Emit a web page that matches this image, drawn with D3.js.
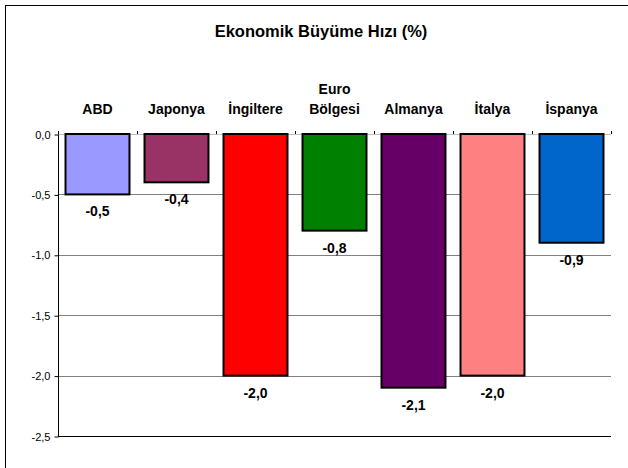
<!DOCTYPE html>
<html>
<head>
<meta charset="utf-8">
<script src="https://cdn.jsdelivr.net/npm/d3@7/dist/d3.min.js"></script>
<style>
  html, body { margin: 0; padding: 0; background: #fff; }
  svg { display: block; font-family: Arial, "Liberation Sans", sans-serif; }
</style>
</head>
<body>
<script>
/* ---------------------- Data ---------------------- */
var title = "Ekonomik Büyüme Hızı (%)";
var categories = ["ABD", "Japonya", "İngiltere", "Euro\nBölgesi", "Almanya", "İtalya", "İspanya"];
var values = [-0.5, -0.4, -2.0, -0.8, -2.1, -2.0, -0.9];
var barColors = ["#9999ff", "#993366", "#ff0000", "#008000", "#660066", "#ff8080", "#0066cc"];
var yTicks = [0, -0.5, -1.0, -1.5, -2.0, -2.5];

var W = 628, H = 468;
var plot = {left: 58, right: 611, top: 134, bottom: 436};

var fmt = function(v) { return d3.format(".1f")(v).replace("−", "-").replace(".", ","); };

/* ---------------------- Chart ---------------------- */
var svg = d3.select("body").append("svg")
    .attr("width", W)
    .attr("height", H);

// Chart area border (runs off the right and bottom edges)
svg.append("rect")
    .attr("x", 5.5).attr("y", 5.5)
    .attr("width", W + 10).attr("height", H + 10)
    .attr("fill", "#fff")
    .attr("stroke", "#000");

var xScale = d3.scaleBand()
    .domain(categories)
    .range([plot.left, plot.right])
    .paddingInner(0.165)
    .paddingOuter(0.0825);

var yScale = d3.scaleLinear()
    .domain([-2.5, 0])
    .range([plot.bottom, plot.top]);

// Gridlines
svg.append("g")
    .selectAll("line")
    .data(yTicks)
    .enter()
    .append("line")
    .attr("x1", plot.left).attr("x2", plot.right)
    .attr("y1", d => Math.round(yScale(d)) + 0.5)
    .attr("y2", d => Math.round(yScale(d)) + 0.5)
    .attr("stroke", d => d === -2.5 ? "#000" : (d === 0 ? "#c0c0c0" : "#808080"))
    .attr("stroke-width", 1);

// Value axis
var yAxis = d3.axisLeft(yScale)
    .tickValues(yTicks)
    .tickSize(4)
    .tickPadding(4)
    .tickFormat(fmt);

svg.append("g")
    .attr("transform", `translate(${plot.left + 0.5}, 0.5)`)
    .call(yAxis)
    .call(g => g.select(".domain").attr("stroke", "#000").attr("d", `M0,${yScale(0)}V${yScale(-2.5)}`))
    .call(g => g.selectAll(".tick text")
        .attr("font-size", 11)
        .attr("font-family", "Arial, 'Liberation Sans', sans-serif")
        .attr("fill", "#000"));

// Category tick marks on the zero line (between bars)
var step = xScale.step();
svg.append("g")
    .selectAll("line")
    .data(d3.range(categories.length + 1))
    .enter()
    .append("line")
    .attr("x1", i => Math.round(plot.left + i * step) + 0.5)
    .attr("x2", i => Math.round(plot.left + i * step) + 0.5)
    .attr("y1", yScale(0) - 3)
    .attr("y2", yScale(0))
    .attr("stroke", "#000");

// Bars
svg.append("g")
    .selectAll("rect")
    .data(values)
    .enter()
    .append("rect")
    .attr("x", (d, i) => xScale(categories[i]) + 1)
    .attr("y", yScale(0))
    .attr("width", xScale.bandwidth() - 2)
    .attr("height", d => yScale(d) - yScale(0))
    .attr("fill", (d, i) => barColors[i])
    .attr("stroke", "#000")
    .attr("stroke-width", 2);

// Value labels
svg.append("g")
    .selectAll("text")
    .data(values)
    .enter()
    .append("text")
    .attr("x", (d, i) => xScale(categories[i]) + xScale.bandwidth() / 2)
    .attr("y", d => yScale(d) + 22)
    .attr("text-anchor", "middle")
    .attr("font-size", 14)
    .attr("font-weight", "bold")
    .text(d => fmt(d));

// Category labels (above the plot)
var catLabels = svg.append("g")
    .selectAll("text")
    .data(categories)
    .enter()
    .append("text")
    .attr("text-anchor", "middle")
    .attr("font-size", 14)
    .attr("font-weight", "bold");

catLabels.each(function(c) {
    var lines = c.split("\n");
    var t = d3.select(this);
    lines.forEach((ln, j) => {
        t.append("tspan")
            .attr("x", xScale(c) + xScale.bandwidth() / 2)
            .attr("y", 114 - (lines.length - 1 - j) * 20)
            .text(ln);
    });
});

// Title
svg.append("text")
    .attr("x", 321)
    .attr("y", 37)
    .attr("text-anchor", "middle")
    .attr("font-size", 16.5)
    .attr("font-weight", "bold")
    .text(title);
</script>
</body>
</html>
